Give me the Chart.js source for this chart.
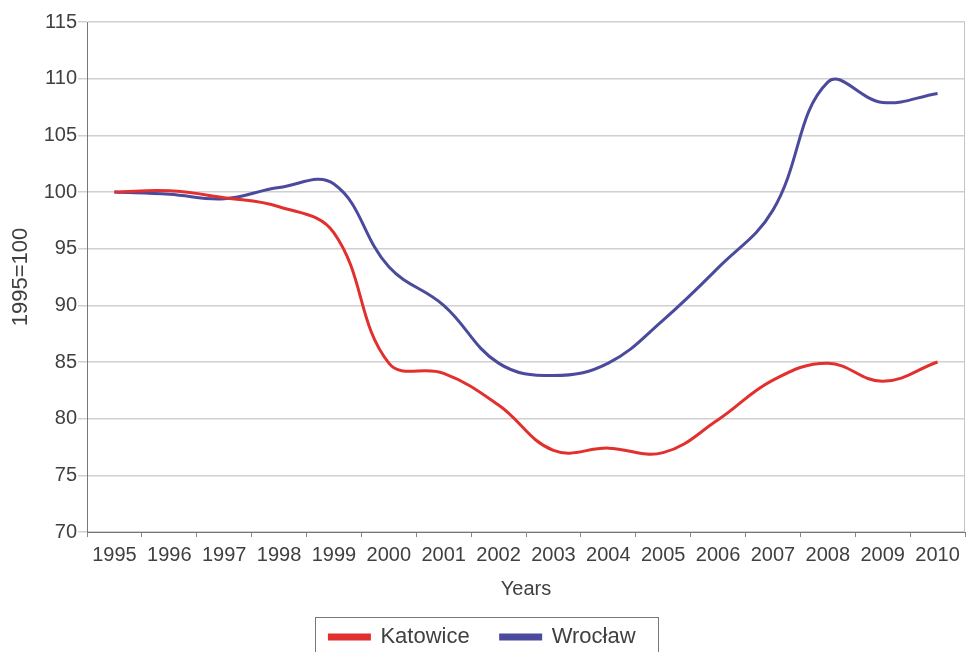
<!DOCTYPE html>
<html>
<head>
<meta charset="utf-8">
<script src="https://cdn.jsdelivr.net/npm/chart.js@4/dist/chart.umd.min.js"></script>
<style>
  html, body { margin: 0; padding: 0; background: #fff; }
  #wrap { width: 966px; height: 652px; }
</style>
</head>
<body>
<div id="wrap"><canvas id="myChart"></canvas></div>
<script>
const years = ['1995', '1996', '1997', '1998', '1999', '2000', '2001', '2002', '2003', '2004', '2005', '2006', '2007', '2008', '2009', '2010'];
const katowice = [100, 100.1, 99.5, 98.7, 96.4, 84.9, 84.0, 81.2, 77.2, 77.4, 77.0, 79.9, 83.4, 84.9, 83.3, 85.0];
const wroclaw = [100, 99.8, 99.4, 100.4, 100.7, 93.4, 90.0, 84.9, 83.8, 84.9, 88.7, 93.3, 98.4, 109.7, 107.9, 108.7];
const yTicks = [70, 75, 80, 85, 90, 95, 100, 105, 110, 115];

const font = 'Liberation Sans, Arial, sans-serif';
const textColor = '#404040';

// box round the legend and the right edge of the plot
const frame = {
  id: 'frame',
  afterDraw(chart) {
    const c = chart.ctx;
    const a = chart.chartArea;
    c.save();
    c.strokeStyle = '#c4c4c4';
    c.lineWidth = 1;
    c.beginPath();
    c.moveTo(a.right - 0.5, a.top);
    c.lineTo(a.right - 0.5, a.bottom);
    c.stroke();

    const boxes = chart.legend.legendHitBoxes;
    if (boxes && boxes.length) {
      const first = boxes[0];
      const last = boxes[boxes.length - 1];
      const l = first.left - 14;
      const r = last.left + last.width + 23;
      const t = first.top - 9;
      c.strokeStyle = '#777';
      c.strokeRect(Math.round(l) + 0.5, Math.round(t) + 0.5, Math.round(r - l), 60);
    }
    c.restore();
  }
};

const ctx = document.getElementById('myChart');

new Chart(ctx, {
  type: 'line',
  data: {
    labels: years,
    datasets: [
      {
        label: 'Katowice',
        data: katowice,
        borderColor: '#e2302e',
        backgroundColor: '#e2302e',
        borderWidth: 3,
        tension: 0.4,
        pointRadius: 0,
        fill: false
      },
      {
        label: 'Wrocław',
        data: wroclaw,
        borderColor: '#4b4a9c',
        backgroundColor: '#4b4a9c',
        borderWidth: 3,
        tension: 0.4,
        pointRadius: 0,
        fill: false
      }
    ]
  },
  options: {
    responsive: true,
    maintainAspectRatio: false,
    animation: false,
    layout: { padding: { top: 22, right: 1, left: 0, bottom: -6 } },
    plugins: {
      tooltip: { enabled: false },
      legend: {
        position: 'bottom',
        labels: {
          boxWidth: 40,
          boxHeight: 4,
          padding: 31,
          color: textColor,
          font: { family: font, size: 22 }
        }
      }
    },
    scales: {
      x: {
        offset: true,
        grid: {
          offset: true,
          drawOnChartArea: false,
          drawTicks: true,
          tickLength: 5,
          color: '#888'
        },
        border: { color: '#777', width: 1 },
        ticks: {
          color: textColor,
          padding: 6,
          maxRotation: 0,
          autoSkip: false,
          font: { family: font, size: 20 }
        },
        title: {
          display: true,
          text: 'Years',
          color: textColor,
          padding: { top: 4, bottom: -6 },
          font: { family: font, size: 20 }
        },
        afterFit(scale) { scale.height = 63; }
      },
      y: {
        min: 70,
        max: 115,
        afterBuildTicks(scale) {
          scale.ticks = yTicks.map(v => ({ value: v }));
        },
        grid: {
          color: '#d0d0d0',
          tickLength: 9,
          lineWidth: 1.5
        },
        border: { color: '#777', width: 1 },
        ticks: {
          color: textColor,
          padding: 1,
          font: { family: font, size: 20 }
        },
        title: {
          display: true,
          text: '1995=100',
          color: textColor,
          padding: { top: 8, bottom: 0 },
          font: { family: font, size: 22 }
        },
        afterFit(scale) { scale.width = 87; }
      }
    }
  },
  plugins: [frame]
});
</script>
</body>
</html>
